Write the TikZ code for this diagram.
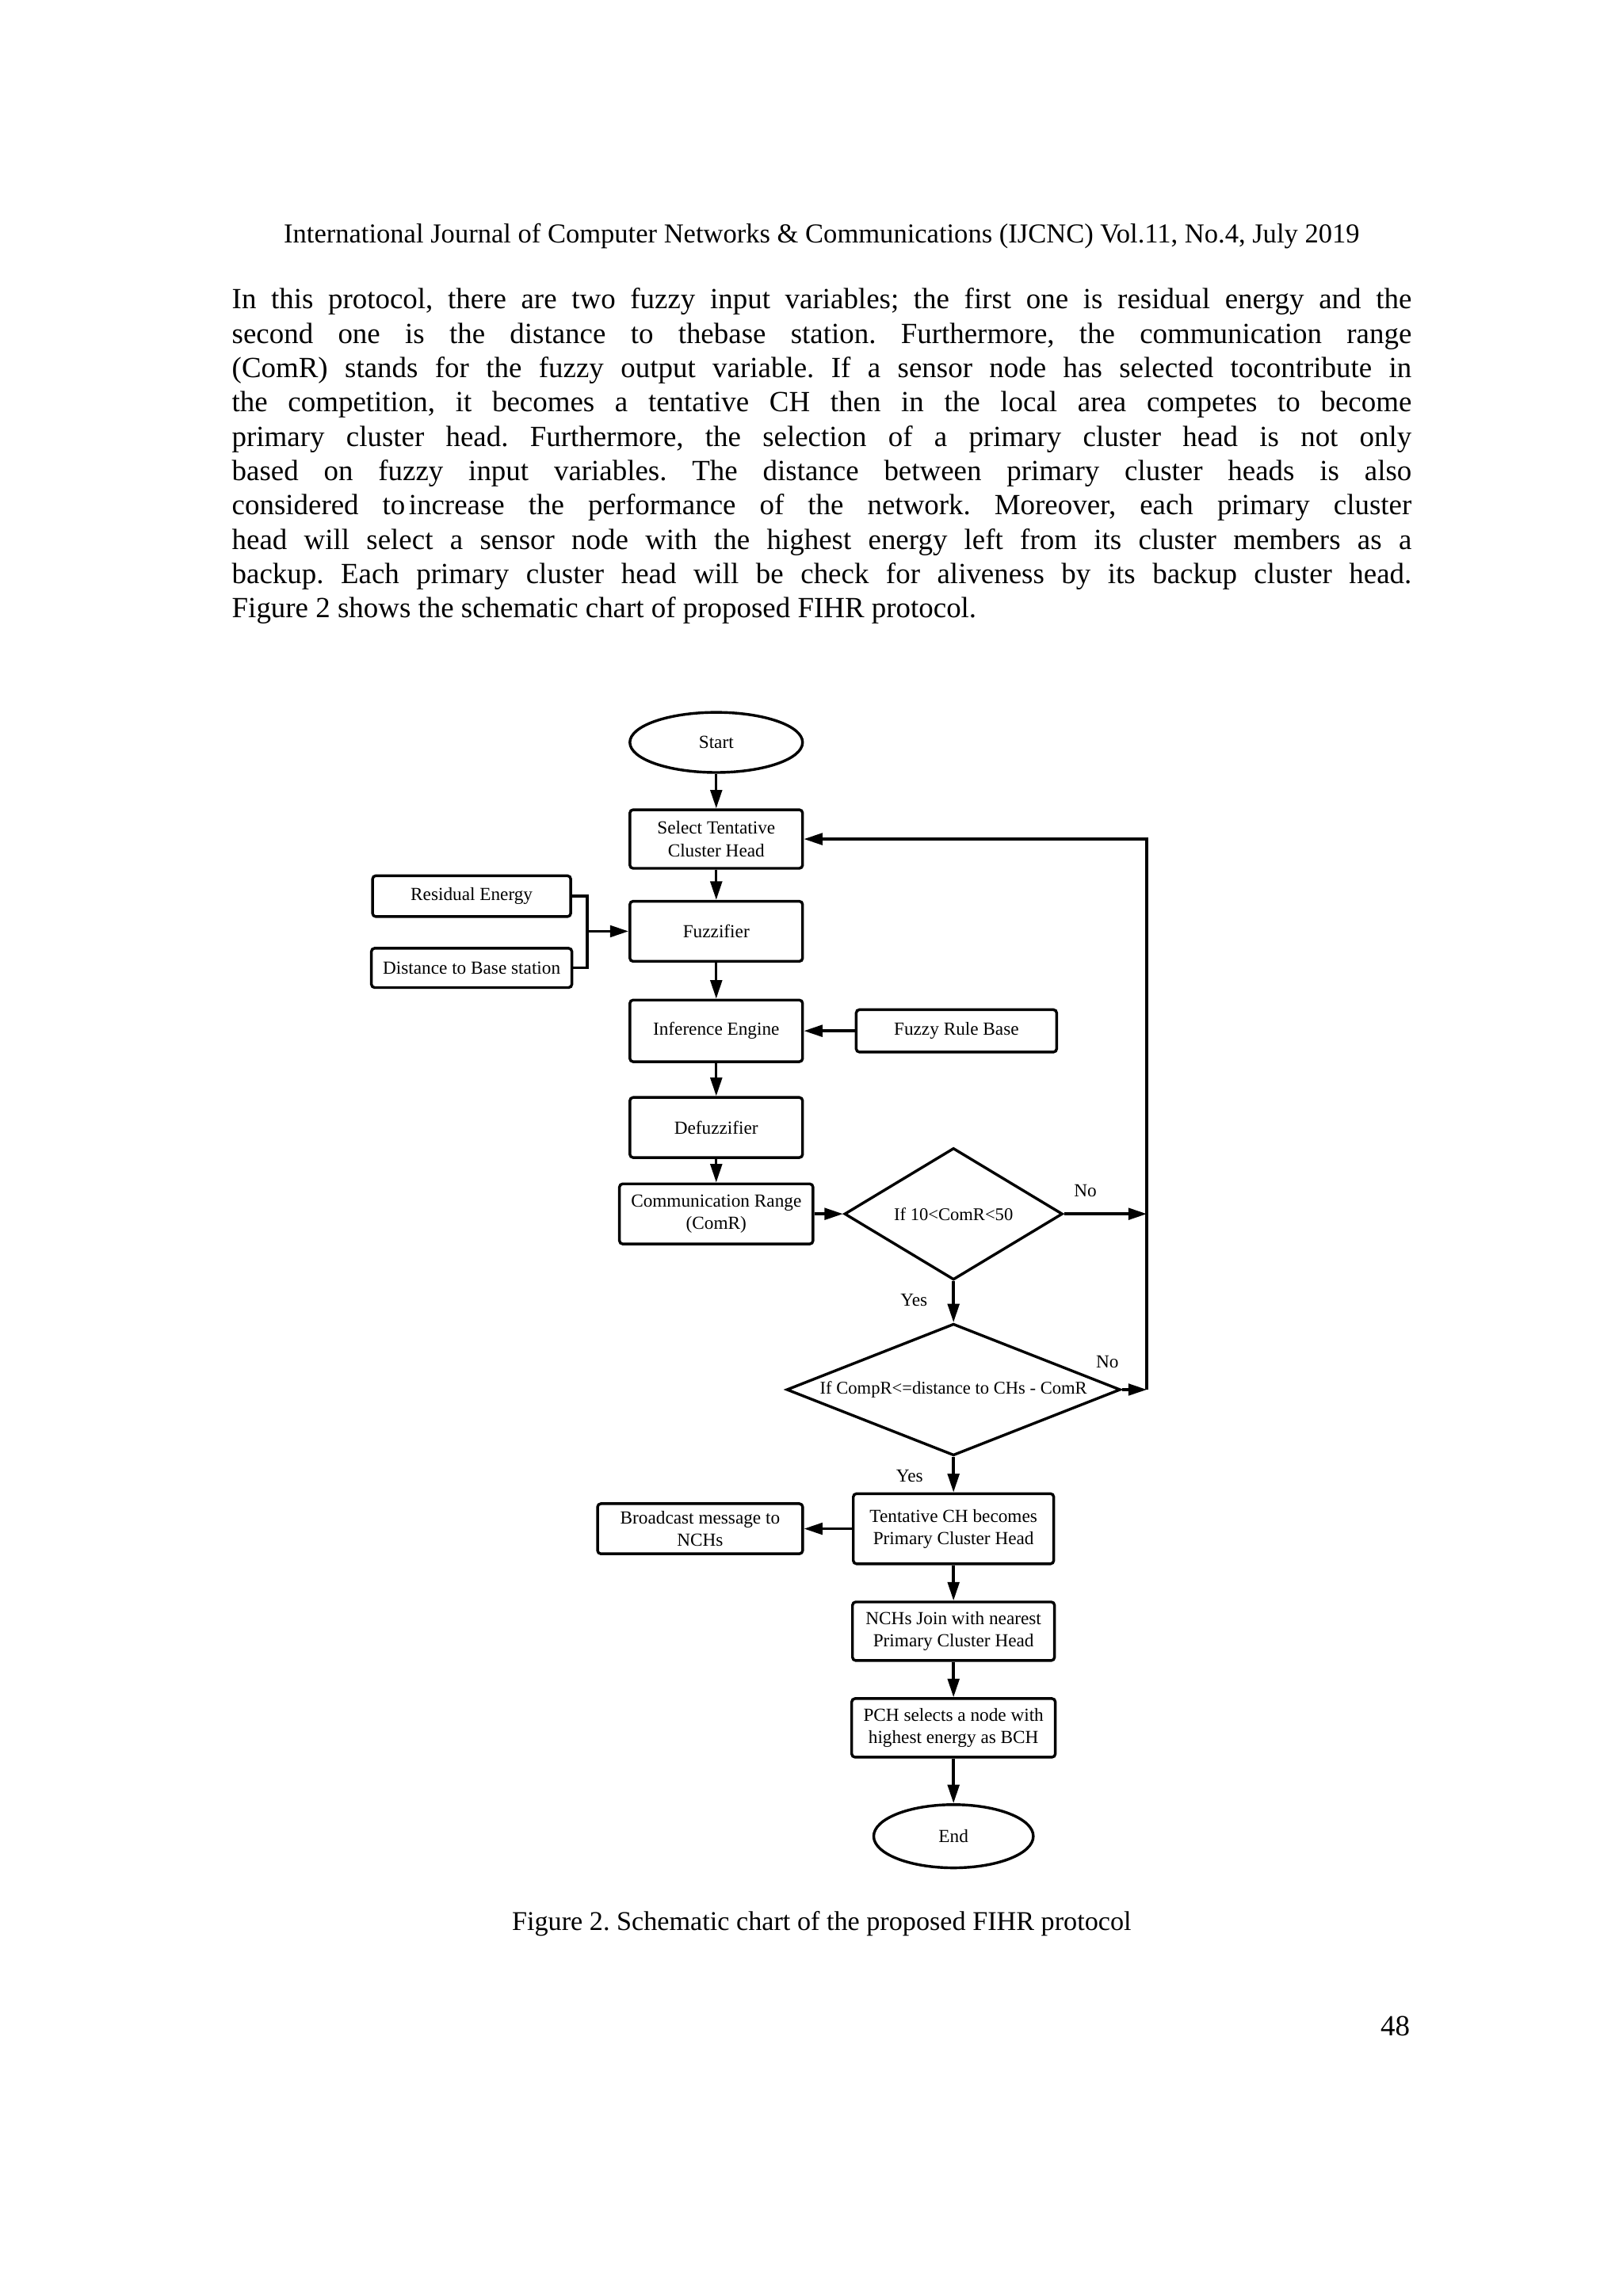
\documentclass[tikz,border=0pt]{standalone}
\usepackage{fontspec}
\setmainfont{Liberation Serif}
\usetikzlibrary{shapes.geometric, arrows.meta}

\newcommand{\jline}[1]{\makebox[15.3cm][s]{#1}}
\frenchspacing

\begin{document}
\begin{tikzpicture}[x=0.019cm, y=-0.019cm,
    proc/.style={draw, rectangle, rounded corners=1.2pt, line width=1pt, align=center, inner sep=1pt, font=\fontsize{6.8}{8.2}\selectfont},
    term/.style={draw, ellipse, line width=1pt, inner sep=0pt, font=\fontsize{6.8}{8.2}\selectfont},
    dec/.style={draw, diamond, line width=1pt, inner sep=0pt, align=center, font=\fontsize{6.6}{8.2}\selectfont},
    arrow/.style={-{Triangle[length=2.4mm, width=1.5mm]}, line width=1pt},
    lbl/.style={font=\fontsize{6.8}{8.2}\selectfont},
    txt/.style={anchor=base west, inner sep=0pt, font=\fontsize{10.8}{12.6}\selectfont}
]
    \fill[white] (0,0) rectangle (1108,1568);
    \useasboundingbox (0,0) rectangle (1108,1568);

    % page text
    \node[font=\fontsize{10.1}{12}\selectfont] (hdr) at (561,161) {International Journal of Computer Networks \& Communications (IJCNC) Vol.11, No.4, July 2019};
    \node[txt] (p1) at (158,211) {\jline{In this protocol, there are two fuzzy input variables; the first one is residual energy and the}};
    \node[txt] (p2) at (158,234.4) {\jline{second one is the distance to thebase station. Furthermore, the communication range}};
    \node[txt] (p3) at (158,257.9) {\jline{(ComR) stands for the fuzzy output variable. If a sensor node has selected tocontribute in}};
    \node[txt] (p4) at (158,281.3) {\jline{the competition, it becomes a tentative CH then in the local area competes to become}};
    \node[txt] (p5) at (158,304.8) {\jline{primary cluster head. Furthermore, the selection of a primary cluster head is not only}};
    \node[txt] (p6) at (158,328.2) {\jline{based on fuzzy input variables. The distance between primary cluster heads is also}};
    \node[txt] (p7) at (158,351.6) {\jline{considered to\hspace{0.12em}increase the performance of the network. Moreover, each primary cluster}};
    \node[txt] (p8) at (158,375.1) {\jline{head will select a sensor node with the highest energy left from its cluster members as a}};
    \node[txt] (p9) at (158,398.5) {\jline{backup. Each primary cluster head will be check for aliveness by its backup cluster head.}};
    \node[txt] (p10) at (158,422) {Figure 2 shows the schematic chart of proposed FIHR protocol.};

    % flowchart
    \node[term, minimum width=2.24cm, minimum height=0.78cm] (start) at (489,507) {Start};
    \node[proc, minimum width=2.24cm, minimum height=0.76cm] (sel) at (489,573) {Select Tentative\\Cluster Head};
    \node[proc, minimum width=2.57cm, minimum height=0.53cm] (res) at (322,612) {Residual Energy};
    \node[proc, minimum width=2.60cm, minimum height=0.51cm] (dist) at (322,661) {Distance to Base station};
    \node[proc, minimum width=2.24cm, minimum height=0.78cm] (fuzz) at (489,636) {Fuzzifier};
    \node[proc, minimum width=2.24cm, minimum height=0.80cm] (inf) at (489,704) {Inference Engine};
    \node[proc, minimum width=2.60cm, minimum height=0.55cm] (rule) at (653,704) {Fuzzy Rule Base};
    \node[proc, minimum width=2.24cm, minimum height=0.78cm] (defuz) at (489,770) {Defuzzifier};
    \node[proc, minimum width=2.51cm, minimum height=0.78cm] (comr) at (489,829) {Communication Range\\(ComR)};
    \node[dec, aspect=1.66, minimum width=2.83cm, minimum height=1.71cm] (d1) at (651,829) {If 10<ComR<50};
    \node[dec, aspect=2.53, minimum width=4.33cm, minimum height=1.71cm] (d2) at (651,949) {If CompR<=distance to CHs - ComR};
    \node[proc, minimum width=2.60cm, minimum height=0.91cm] (tch) at (651,1044) {Tentative CH becomes\\Primary Cluster Head};
    \node[proc, minimum width=2.66cm, minimum height=0.65cm] (bcast) at (478,1044) {Broadcast message to\\NCHs};
    \node[proc, minimum width=2.62cm, minimum height=0.76cm] (nch) at (651,1114) {NCHs Join with nearest\\Primary Cluster Head};
    \node[proc, minimum width=2.64cm, minimum height=0.76cm] (pch) at (651,1180) {PCH selects a node with\\highest energy as BCH};
    \node[term, minimum width=2.07cm, minimum height=0.82cm] (end) at (651,1254) {End};

    \coordinate (jn) at (401,636);
    \coordinate (no1) at (783,829);
    \coordinate (no2) at (783,949);

    \draw[arrow] (start) -- (sel);
    \draw[arrow] (sel) -- (fuzz);
    \draw[line width=1pt] (res.east) -| (jn) |- (dist.east);
    \draw[arrow] (jn) -- (fuzz.west);
    \draw[arrow] (fuzz) -- (inf);
    \draw[arrow] (rule) -- (inf);
    \draw[arrow] (inf) -- (defuz);
    \draw[arrow] (defuz) -- (comr);
    \draw[arrow] (comr) -- (d1);
    \draw[arrow] (d1.east) -- (no1);
    \draw[arrow] (d2.east) -- (no2);
    \draw[arrow] (no2) |- (sel.east);
    \draw[arrow] (d1) -- (d2);
    \draw[arrow] (d2) -- (tch);
    \draw[arrow] (tch) -- (bcast);
    \draw[arrow] (tch) -- (nch);
    \draw[arrow] (nch) -- (pch);
    \draw[arrow] (pch) -- (end);

    \node[lbl] (lno1) at (741,813) {No};
    \node[lbl] (lno2) at (756,930) {No};
    \node[lbl] (lyes1) at (624,888) {Yes};
    \node[lbl] (lyes2) at (621,1008) {Yes};

    % caption and page number
    \node[font=\fontsize{10}{12}\selectfont] (cap) at (561,1314) {Figure 2. Schematic chart of the proposed FIHR protocol};
    \node[anchor=base east, inner sep=0pt, font=\fontsize{10.8}{12.6}\selectfont] (pg) at (963,1390) {48};
\end{tikzpicture}
\end{document}
